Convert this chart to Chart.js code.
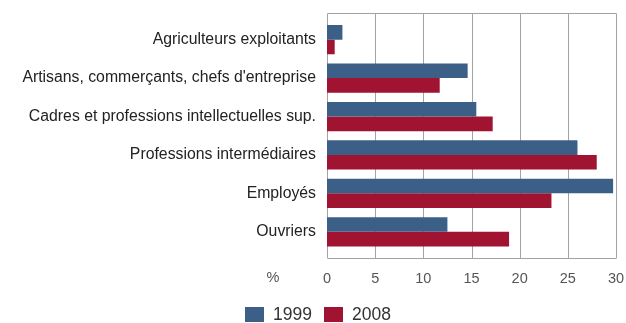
<!DOCTYPE html>
<html lang="fr">
<head>
<meta charset="utf-8">
<script src="https://cdn.jsdelivr.net/npm/chart.js@4/dist/chart.umd.min.js"></script>
<style>
  html, body { margin: 0; padding: 0; background: #ffffff; }
  #wrap { width: 626px; height: 323px; position: relative; }
</style>
</head>
<body>
<div id="wrap"><canvas id="c" width="626" height="323"></canvas></div>
<script>
// Catégories socioprofessionnelles (part en %)
const categories = [
  "Agriculteurs exploitants",
  "Artisans, commerçants, chefs d'entreprise",
  "Cadres et professions intellectuelles sup.",
  "Professions intermédiaires",
  "Employés",
  "Ouvriers"
];
const values1999 = [1.6, 14.6, 15.5, 26.0, 29.7, 12.5];
const values2008 = [0.8, 11.7, 17.2, 28.0, 23.3, 18.9];
const seriesLabels = ["1999", "2008"];
const xTicks = [0, 5, 10, 15, 20, 25, 30];
const unitLabel = "%";

const BLUE = "#3c5f88";
const RED = "#a01331";
const GRID = "#a3a3a3";
const FONT = "'Liberation Sans', Arial, sans-serif";

// Frame, vertical grid (a little beyond the category bands), unit label and legend
const framePlugin = {
  id: "frame",
  beforeDatasetsDraw(chart) {
    const { ctx, chartArea: a, scales: { x } } = chart;
    const ext = 7;
    const top = a.top - ext, bottom = a.bottom + ext;
    ctx.save();
    ctx.strokeStyle = GRID;
    ctx.lineWidth = 1;
    ctx.beginPath();
    xTicks.forEach(v => {
      const px = Math.round(x.getPixelForValue(v)) + 0.5;
      ctx.moveTo(px, top);
      ctx.lineTo(px, bottom);
    });
    const l = Math.round(x.getPixelForValue(xTicks[0])) + 0.5;
    const r = Math.round(x.getPixelForValue(xTicks[xTicks.length - 1])) + 0.5;
    ctx.moveTo(l, Math.round(top) + 0.5);
    ctx.lineTo(r, Math.round(top) + 0.5);
    ctx.moveTo(l, Math.round(bottom) + 0.5);
    ctx.lineTo(r, Math.round(bottom) + 0.5);
    ctx.stroke();
    ctx.restore();
  },
  afterDraw(chart) {
    const { ctx, scales: { x } } = chart;
    ctx.save();
    // unit label on the tick row, left of the axis
    ctx.fillStyle = "#555555";
    ctx.font = "14.5px " + FONT;
    ctx.textAlign = "center";
    ctx.textBaseline = "middle";
    ctx.fillText(unitLabel, x.getPixelForValue(0) - 54, x.top + 27);

    // legend row, centred under the chart
    const boxW = 19, boxH = 15, gapBox = 9, gapItem = 12;
    ctx.font = "17.5px " + FONT;
    const items = chart.data.datasets.map(ds => ({
      text: ds.label, color: ds.backgroundColor, w: ctx.measureText(ds.label).width
    }));
    const total = items.reduce((s, it) => s + boxW + gapBox + it.w, 0) + gapItem * (items.length - 1);
    let cx = (chart.width - total) / 2 + 5;
    const cy = 314.5;
    ctx.textAlign = "left";
    items.forEach(it => {
      ctx.fillStyle = it.color;
      ctx.fillRect(Math.round(cx), Math.round(cy - boxH / 2), boxW, boxH);
      cx += boxW + gapBox;
      ctx.fillStyle = "#333333";
      ctx.fillText(it.text, cx, cy + 1);
      cx += it.w + gapItem;
    });
    ctx.restore();
  }
};

new Chart(document.getElementById("c"), {
  type: "bar",
  data: {
    labels: categories,
    datasets: [
      { label: seriesLabels[0], data: values1999, backgroundColor: BLUE, borderWidth: 0 },
      { label: seriesLabels[1], data: values2008, backgroundColor: RED, borderWidth: 0 }
    ]
  },
  options: {
    indexAxis: "y",
    responsive: false,
    animation: false,
    datasets: { bar: { categoryPercentage: 0.76, barPercentage: 1.0 } },
    layout: { padding: { top: 19, right: 10, left: 0, bottom: 20 } },
    scales: {
      y: {
        type: "category",
        offset: true,
        grid: { display: false, drawTicks: false },
        border: { display: false },
        ticks: { color: "#222222", font: { family: FONT, size: 15.8 }, padding: 11 },
        afterFit(scale) { scale.width = 327; }
      },
      x: {
        type: "linear",
        min: 0,
        max: 30,
        afterBuildTicks(scale) { scale.ticks = xTicks.map(v => ({ value: v })); },
        grid: { display: false, drawTicks: false },
        border: { display: false },
        ticks: { color: "#555555", font: { family: FONT, size: 14.5 }, padding: 19 },
        afterFit(scale) {
          scale.height = 52;
          scale.paddingLeft = 0;
          scale.paddingRight = 0;
        }
      }
    },
    plugins: {
      legend: { display: false },
      tooltip: { enabled: false }
    }
  },
  plugins: [framePlugin]
});
</script>
</body>
</html>
